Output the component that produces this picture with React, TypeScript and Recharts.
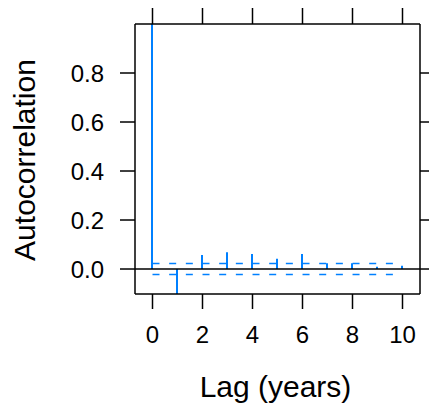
import React from "react";
import { ComposedChart, Bar, Line, XAxis, YAxis, ReferenceLine, Label } from "recharts";

const lags = [0, 1, 2, 3, 4, 5, 6, 7, 8, 9, 10];
const acfValues = [1.0, -0.12, 0.057, 0.068, 0.061, 0.042, 0.061, 0.023, 0.023, 0.009, 0.013];
const ciBound = 0.022;
const xTicks = [0, 2, 4, 6, 8, 10];
const yTicks = [0, 0.2, 0.4, 0.6, 0.8];

const data = lags.map((lag, i) => ({ lag, acf: acfValues[i], upper: ciBound, lower: -ciBound }));

const BLUE = "#0080ff";
const FONT = "'Liberation Sans', Arial, Helvetica, sans-serif";
const axisLine = { stroke: "#000", strokeWidth: 1.5 };
const tickLine = { stroke: "#000", strokeWidth: 1.5 };
const xDomain: [number, number] = [-0.7, 10.7];
const yDomain: [number, number] = [-0.102, 1.0];

const NoTick = () => <g />;

export default function App() {
  return (
    <div style={{ position: "absolute", left: 0, top: 0, background: "#fff" }}>
      <ComposedChart
        width={429}
        height={407}
        data={data}
        margin={{ top: 23, right: 8, bottom: 0, left: 0 }}
        style={{ fontFamily: FONT }}
      >
        <XAxis
          dataKey="lag"
          type="number"
          domain={xDomain}
          allowDataOverflow
          ticks={xTicks}
          height={113}
          tickSize={15}
          tickMargin={17}
          axisLine={axisLine}
          tickLine={tickLine}
          tick={{ fontSize: 24, fill: "#000", fontFamily: FONT }}
        >
          <Label
            content={(props: any) => {
              const vb = props.viewBox || {};
              return (
                <text
                  x={vb.x + vb.width / 2 - 2}
                  y={vb.y + vb.height - 10}
                  textAnchor="middle"
                  fontSize={30}
                  fontFamily={FONT}
                  fill="#000"
                >
                  Lag (years)
                </text>
              );
            }}
          />
        </XAxis>
        <XAxis
          xAxisId="top"
          orientation="top"
          dataKey="lag"
          type="number"
          domain={xDomain}
          allowDataOverflow
          ticks={xTicks}
          height={1}
          tickSize={16}
          axisLine={axisLine}
          tickLine={tickLine}
          tick={NoTick}
        />
        <YAxis
          type="number"
          domain={yDomain}
          allowDataOverflow
          ticks={yTicks}
          width={135}
          tickSize={15}
          tickMargin={16}
          axisLine={axisLine}
          tickLine={tickLine}
          tickFormatter={(v: number) => v.toFixed(1)}
          tick={{ fontSize: 24, fill: "#000", fontFamily: FONT }}
        >
          <Label
            content={(props: any) => {
              const vb = props.viewBox || {};
              const cx = 35;
              const cy = vb.y + vb.height / 2 + 1;
              return (
                <text
                  x={cx}
                  y={cy}
                  transform={`rotate(-90 ${cx} ${cy})`}
                  textAnchor="middle"
                  fontSize={30}
                  fontFamily={FONT}
                  fill="#000"
                >
                  Autocorrelation
                </text>
              );
            }}
          />
        </YAxis>
        <YAxis
          yAxisId="right"
          orientation="right"
          type="number"
          domain={yDomain}
          allowDataOverflow
          ticks={yTicks}
          width={1}
          tickSize={15}
          axisLine={axisLine}
          tickLine={tickLine}
          tick={NoTick}
        />
        <ReferenceLine y={0} stroke="#000" strokeWidth={1.5} />
        <Bar dataKey="acf" fill={BLUE} barSize={2} isAnimationActive={false} />
        <Line
          dataKey="upper"
          stroke={BLUE}
          strokeWidth={1.5}
          strokeDasharray="7 9.67"
          dot={false}
          activeDot={false}
          type="linear"
          isAnimationActive={false}
        />
        <Line
          dataKey="lower"
          stroke={BLUE}
          strokeWidth={1.5}
          strokeDasharray="7 9.67"
          dot={false}
          activeDot={false}
          type="linear"
          isAnimationActive={false}
        />
      </ComposedChart>
    </div>
  );
}
